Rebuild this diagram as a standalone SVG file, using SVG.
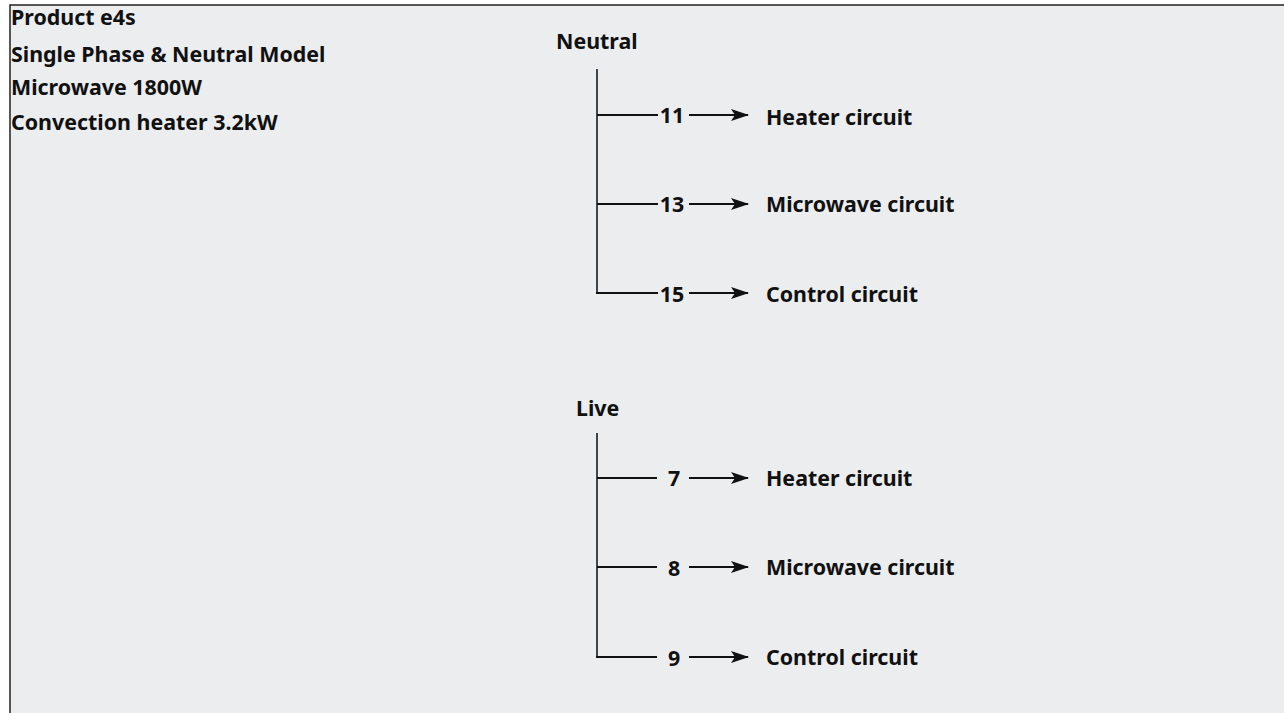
<svg xmlns="http://www.w3.org/2000/svg" width="1284" height="713" viewBox="0 0 1284 713">
<style>
.t{font-family:"Noto Sans","Open Sans",sans-serif;font-weight:bold;font-size:21.4px;fill:#111}
.bus{stroke:#3c4650;stroke-width:2;fill:none}
.w{stroke:#111;stroke-width:2;fill:none}
.a{stroke:#111;stroke-width:2;fill:none;marker-end:url(#ah)}
</style>
<defs>
<marker id="ah" viewBox="0 0 18 12" refX="17" refY="6" markerWidth="18" markerHeight="12" markerUnits="userSpaceOnUse" orient="auto">
<path d="M0,0 L18,6 L0,12 L4,6 Z" fill="#111"/>
</marker>
</defs>
<rect x="0" y="0" width="1284" height="713" fill="#ffffff"/>
<rect x="10" y="5" width="1274" height="708" fill="#ECEDEF"/>
<path d="M10,713 V5 H1284" stroke="#222" stroke-width="1.5" fill="none"/>
<g id="title">
<text class="t" x="11" y="25">Product e4s</text>
<text class="t" x="11" y="62">Single Phase &amp; Neutral Model</text>
<text class="t" x="11" y="95">Microwave 1800W</text>
<text class="t" x="11" y="130">Convection heater 3.2kW</text>
</g>
<g id="neutral">
<text class="t" x="556" y="49">Neutral</text>
<line class="bus" x1="597" y1="69" x2="597" y2="294"/>
</g>
<g id="live">
<text class="t" x="576" y="416">Live</text>
<line class="bus" x1="597" y1="433" x2="597" y2="658"/>
</g>
<g id="connectors">
<path class="w" d="M597,115 H658 M597,204 H658 M596,293 H658"/>
<path class="a" d="M689,115 H748"/>
<path class="a" d="M689,204 H748"/>
<path class="a" d="M689,293 H748"/>
<path class="w" d="M597,478 H657 M597,567 H657 M596,657 H657"/>
<path class="a" d="M689,478 H748"/>
<path class="a" d="M689,567 H748"/>
<path class="a" d="M689,657 H748"/>
</g>
<g id="n11"><text class="t" x="672" y="123" text-anchor="middle">11</text></g>
<g id="n13"><text class="t" x="672" y="212" text-anchor="middle">13</text></g>
<g id="n15"><text class="t" x="672" y="302" text-anchor="middle">15</text></g>
<g id="n7"><text class="t" x="674" y="486" text-anchor="middle">7</text></g>
<g id="n8"><text class="t" x="674" y="576" text-anchor="middle">8</text></g>
<g id="n9"><text class="t" x="674" y="666" text-anchor="middle">9</text></g>
<g id="heaterN"><text class="t" x="766" y="125">Heater circuit</text></g>
<g id="microN"><text class="t" x="766" y="212">Microwave circuit</text></g>
<g id="controlN"><text class="t" x="766" y="302">Control circuit</text></g>
<g id="heaterL"><text class="t" x="766" y="486">Heater circuit</text></g>
<g id="microL"><text class="t" x="766" y="575">Microwave circuit</text></g>
<g id="controlL"><text class="t" x="766" y="665">Control circuit</text></g>
</svg>
